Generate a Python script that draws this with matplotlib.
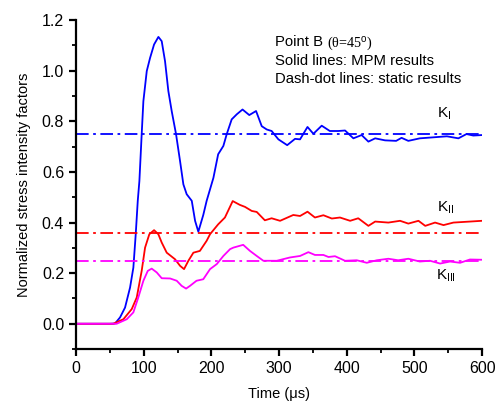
import matplotlib
matplotlib.use("Agg")
import matplotlib.pyplot as plt
import matplotlib.ticker as ticker
import numpy as np

plt.rcParams['font.family'] = ['Liberation Sans', 'DejaVu Sans']
plt.rcParams['mathtext.fontset'] = 'custom'
plt.rcParams['mathtext.rm'] = 'Liberation Sans'

# K_I (MPM)
t1 = [0, 50, 57.6, 65, 72.4, 79.8, 84.7, 88.2, 91.2, 93.6, 97, 99.5, 104.5, 109.4, 115.3,
      121.7, 126.6, 131.5, 136.4, 141.4, 147.8, 153.7, 158.6, 163.5, 171, 175.9, 180.7,
      188, 193, 203, 210, 217.7, 222.6, 230, 237.5, 246, 256, 266, 274.4, 281.8, 289, 299,
      312, 323.6, 331, 342, 350.7, 363, 375, 387.6, 397.5, 409.8, 422, 432, 442, 456.6,
      473, 481, 491, 508, 533, 548, 565, 577, 587, 600]
k1 = [0, 0, 0.001, 0.025, 0.064, 0.143, 0.222, 0.354, 0.486, 0.564, 0.749, 0.88, 0.999, 1.051, 1.104,
      1.134, 1.117, 1.038, 0.92, 0.84, 0.749, 0.643, 0.551, 0.512, 0.486, 0.407, 0.364,
      0.43, 0.486, 0.577, 0.67, 0.703, 0.749, 0.808, 0.828, 0.847, 0.825, 0.841, 0.781, 0.768, 0.762, 0.729,
      0.706, 0.731, 0.729, 0.778, 0.751, 0.783, 0.762, 0.762, 0.764, 0.733, 0.746, 0.72, 0.733, 0.725,
      0.723, 0.735, 0.723, 0.733, 0.738, 0.741, 0.733, 0.75, 0.744, 0.746]

# K_II (MPM)
t2 = [0, 55, 70, 82.3, 89.7, 97, 102, 108.3, 115.3, 121.6, 126.6, 134, 146.3, 153.7, 159.6,
      166, 173.4, 183, 193, 198, 210, 220, 231.5, 242, 249.7, 259.6, 267, 279, 289, 301.5,
      321, 331, 342, 353, 365.5, 378, 390, 405, 417, 432, 442, 461.5, 478.8, 491, 506, 516,
      530.5, 543, 557.6, 582, 600]
k2 = [0, 0, 0.018, 0.058, 0.104, 0.209, 0.301, 0.354, 0.37, 0.354, 0.321, 0.281, 0.255, 0.229, 0.216,
      0.249, 0.281, 0.288, 0.328, 0.354, 0.393, 0.42, 0.485, 0.47, 0.462, 0.446, 0.442, 0.409, 0.417, 0.407,
      0.43, 0.426, 0.443, 0.42, 0.429, 0.416, 0.42, 0.407, 0.417, 0.387, 0.404, 0.40, 0.407, 0.396, 0.407, 0.387,
      0.40, 0.39, 0.40, 0.404, 0.407]

# K_III (MPM)
t3 = [0, 60, 75, 84.7, 92, 99.5, 106, 111.8, 119.2, 126.6, 139, 148.8, 156, 162.6, 168.5,
      178, 188, 198, 208, 217.7, 227.6, 232.5, 247, 257, 267, 276.8, 296.6, 316, 331, 343.3,
      353, 365.5, 373, 382.7, 397.5, 414.8, 429.6, 444.4, 461.5, 476, 491, 508, 523, 538,
      552.7, 567.5, 582, 600]
k3 = [0, 0, 0.018, 0.045, 0.104, 0.17, 0.209, 0.218, 0.203, 0.18, 0.179, 0.17, 0.15, 0.139, 0.15,
      0.17, 0.176, 0.216, 0.236, 0.268, 0.295, 0.301, 0.312, 0.288, 0.268, 0.249, 0.249, 0.262, 0.268, 0.283,
      0.272, 0.272, 0.264, 0.267, 0.249, 0.251, 0.241, 0.251, 0.257, 0.251, 0.257, 0.246, 0.249, 0.238,
      0.246, 0.241, 0.254, 0.253]

static_vals = [0.75, 0.36, 0.25]
colors = ['#0000ff', '#ff0000', '#ff00ff']
labels = ['K$_{\\mathrm{I}}$', 'K$_{\\mathrm{II}}$', 'K$_{\\mathrm{III}}$']
label_pos = [(533, 0.83), (533, 0.46), (532, 0.19)]

fig = plt.figure(figsize=(4.97, 4.04), dpi=100)
ax = fig.add_axes([0.153, 0.136, 0.817, 0.814])

for t, k, s, c in zip([t1, t2, t3], [k1, k2, k3], static_vals, colors):
    ax.plot(t, k, color=c, lw=1.3, solid_joinstyle='round')
    ax.plot([0, 600], [s, s], color=c, lw=1.3, dashes=(7, 2.5, 1.5, 2.5))

for lab, (x, y) in zip(labels, label_pos):
    ax.text(x, y, lab, fontsize=11, ha='left', va='center')

# annotation block
fs = 10.7
t0 = ax.text(0.49, 0.955, 'Point B ', transform=ax.transAxes, fontsize=fs, va='top')
fig.canvas.draw()
bb = t0.get_window_extent()
x2 = ax.transAxes.inverted().transform((bb.x1, bb.y1))[0]
ax.text(x2, 0.955, '(\u03b8=45$^{\\mathrm{o}}$)', transform=ax.transAxes, fontsize=fs - 0.5,
        va='top', family=['Liberation Serif', 'DejaVu Serif'])
ax.text(0.49, 0.898, 'Solid lines: MPM results', transform=ax.transAxes, fontsize=fs, va='top')
ax.text(0.49, 0.841, 'Dash-dot lines: static results', transform=ax.transAxes, fontsize=fs, va='top')

ax.set_xlim(0, 600)
ax.set_ylim(-0.1, 1.2)
ax.set_xticks(np.arange(0, 601, 100))
ax.set_xticks(np.arange(0, 601, 50), minor=True)
ax.set_yticks(np.arange(0, 1.21, 0.2))
ax.set_yticks(np.arange(-0.1, 1.21, 0.1), minor=True)
ax.yaxis.set_major_formatter(ticker.FormatStrFormatter('%.1f'))

for side in ['top', 'right']:
    ax.spines[side].set_visible(False)
for side in ['left', 'bottom']:
    ax.spines[side].set_linewidth(1.6)
ax.tick_params(which='major', direction='out', length=5, width=1.6, labelsize=11.5)
ax.tick_params(which='minor', direction='out', length=3, width=1.3)

ax.set_xlabel('Time (\u03bcs)', fontsize=10.5, labelpad=8)
ax.set_ylabel('Normalized stress intensity factors', fontsize=10.5, labelpad=8)

fig.savefig('out.png', dpi=100)
